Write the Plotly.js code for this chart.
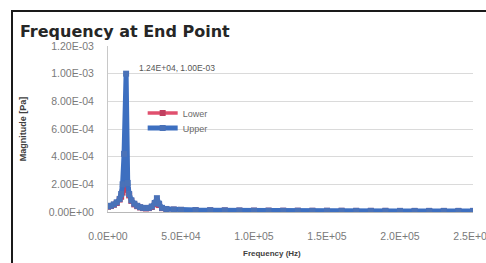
<!DOCTYPE html>
<html>
<head>
<meta charset="utf-8">
<script src="https://cdn.plot.ly/plotly-3.0.1.min.js"></script>
<style>html,body{margin:0;padding:0;background:#fff}#chart{width:486px;height:263px}</style>
</head>
<body>
<div id="chart"></div>
<script>
// Frequency points (Hz)
const freqHz = [0, 2000, 4000, 6000, 8000, 9000, 10000, 11000, 12400, 13500, 14500, 16000, 18000, 20000, 22000, 24000, 26000, 28000, 30000, 32000, 33500, 35000, 37000, 40000, 45000, 50000, 60000, 70000, 80000, 90000, 100000, 110000, 120000, 130000, 140000, 150000, 160000, 170000, 180000, 190000, 200000, 210000, 220000, 230000, 240000, 250000];
// Magnitude (Pa)
const upperPa = [4.0e-5, 4.5e-5, 5.5e-5, 7.0e-5, 9.5e-5, 1.3e-4, 2.0e-4, 4.2e-4, 1.0e-3, 2.1e-4, 1.3e-4, 8.5e-5, 6.0e-5, 4.5e-5, 3.5e-5, 3.0e-5, 2.8e-5, 3.0e-5, 4.0e-5, 6.5e-5, 1.0e-4, 6.0e-5, 3.0e-5, 2.2e-5, 1.8e-5, 1.6e-5, 1.4e-5, 1.3e-5, 1.2e-5, 1.1e-5, 1.0e-5, 1.0e-5, 9.5e-6, 9.5e-6, 9.0e-6, 9.0e-6, 9.0e-6, 8.5e-6, 8.5e-6, 8.5e-6, 8.0e-6, 8.0e-6, 8.0e-6, 8.0e-6, 8.0e-6, 8.0e-6];
const lowerPa = [3.8e-5, 4.3e-5, 5.2e-5, 6.5e-5, 9.0e-5, 1.1e-4, 1.4e-4, 1.7e-4, 1.85e-4, 1.6e-4, 1.2e-4, 8.0e-5, 5.5e-5, 4.2e-5, 3.3e-5, 2.8e-5, 2.6e-5, 2.8e-5, 3.6e-5, 5.5e-5, 7.5e-5, 5.0e-5, 2.8e-5, 2.0e-5, 1.7e-5, 1.5e-5, 1.3e-5, 1.2e-5, 1.1e-5, 1.0e-5, 9.5e-6, 9.5e-6, 9.0e-6, 9.0e-6, 8.5e-6, 8.5e-6, 8.5e-6, 8.0e-6, 8.0e-6, 8.0e-6, 7.5e-6, 7.5e-6, 7.5e-6, 7.5e-6, 7.5e-6, 7.5e-6];
const seriesNames = ["Lower", "Upper"];
const xTickVals = [0, 50000, 100000, 150000, 200000, 250000];
const xTickText = ["0.0E+00", "5.0E+04", "1.0E+05", "1.5E+05", "2.0E+05", "2.5E+05"];
const yTickVals = [0, 2e-4, 4e-4, 6e-4, 8e-4, 1e-3, 1.2e-3];
const yTickText = ["0.00E+00", "2.00E-04", "4.00E-04", "6.00E-04", "8.00E-04", "1.00E-03", "1.20E-03"];
const peakLabel = "1.24E+04, 1.00E-03";

const baseFont = "Liberation Sans, Arial, sans-serif";
const tickFont = {family: baseFont, size: 10.5, color: "#7a7a7a"};

const traces = [
  {x: freqHz, y: lowerPa, name: seriesNames[0], type: "scatter", mode: "lines+markers", legend: "legend",
   line: {color: "#e0506e", width: 3.5}, marker: {symbol: "square", size: 6, color: "#c04060"}},
  {x: freqHz, y: upperPa, name: seriesNames[1], type: "scatter", mode: "lines+markers", legend: "legend2",
   line: {color: "#3d6fc0", width: 5}, marker: {symbol: "square", size: 6, color: "#4a72b8"}}
];

const legendStyle = {xanchor: "left", yanchor: "middle", bgcolor: "rgba(255,255,255,0)",
  font: {family: baseFont, size: 9, color: "#6a6a6a"}, itemwidth: 30};

const layout = {
  width: 486, height: 263,
  margin: {l: 108, r: 13, t: 46, b: 51},
  paper_bgcolor: "#ffffff", plot_bgcolor: "#ffffff",
  showlegend: true,
  legend: Object.assign({x: 0.095, y: 0.596}, legendStyle),
  legend2: Object.assign({x: 0.095, y: 0.506}, legendStyle),
  title: {text: "Frequency at End Point", x: 0.041, xanchor: "left", y: 0.882, yanchor: "middle",
          font: {family: "DejaVu Sans, sans-serif", size: 16, color: "#262626", weight: "bold"}},
  xaxis: {range: [0, 250000], tickvals: xTickVals, ticktext: xTickText, tickfont: tickFont,
          ticklabeloverflow: "allow", ticklabelstandoff: 14,
          showgrid: false, zeroline: false, showline: true, linecolor: "#b8b8b8", linewidth: 1,
          ticks: "", fixedrange: true},
  yaxis: {range: [0, 1.2e-3], tickvals: yTickVals, ticktext: yTickText, tickfont: tickFont,
          ticklabelstandoff: 11,
          showgrid: true, gridcolor: "#dadada", gridwidth: 1, zeroline: false,
          showline: true, linecolor: "#c8c8c8", linewidth: 1, ticks: "",
          title: {text: "Magnitude [Pa]", standoff: 20,
                  font: {family: baseFont, size: 9, color: "#404040", weight: "bold"}},
          fixedrange: true},
  annotations: [
    {x: 12400, y: 1.0e-3, xref: "x", yref: "y", text: peakLabel, showarrow: false,
     xanchor: "left", yanchor: "middle", xshift: 11, yshift: 6,
     font: {family: baseFont, size: 8.5, color: "#555555"}},
    {x: 0.449, y: -0.247, xref: "paper", yref: "paper", text: "Frequency (Hz)", showarrow: false,
     xanchor: "center", yanchor: "middle",
     font: {family: baseFont, size: 8, color: "#404040", weight: "bold"}}
  ],
  shapes: [
    {type: "rect", xref: "paper", yref: "paper", x0: -0.263, x1: 1.2, y0: -0.6, y1: 1.211,
     line: {color: "#1a1a1a", width: 2}, fillcolor: "rgba(0,0,0,0)", layer: "below"}
  ]
};

Plotly.newPlot("chart", traces, layout, {displayModeBar: false, staticPlot: true});
</script>
</body>
</html>
